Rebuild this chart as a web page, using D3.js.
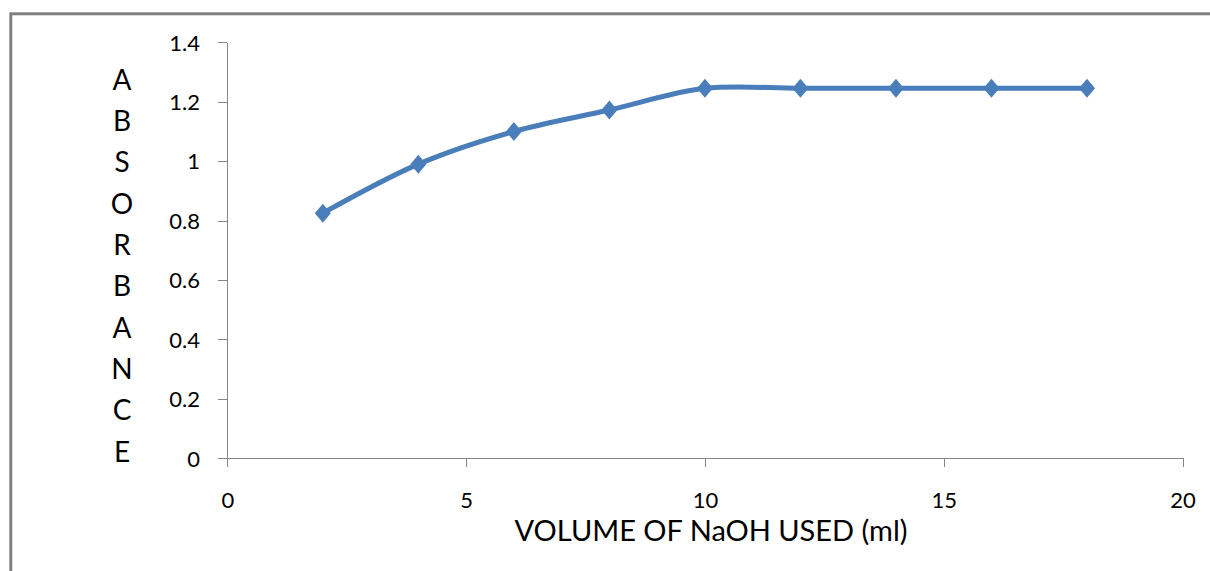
<!DOCTYPE html>
<html>
<head>
<meta charset="utf-8">
<script src="https://cdn.jsdelivr.net/npm/d3@7"></script>
<style>
  html, body { margin: 0; padding: 0; background: #fff; }
  svg { display: block; }
  text { font-family: Lato, "Open Sans", sans-serif; fill: #000; }
</style>
</head>
<body>
<svg id="chart" width="1210" height="571"></svg>
<script>
// Absorbance readings against volume of NaOH added
const volume = [2, 4, 6, 8, 10, 12, 14, 16, 18];
const absorbance = [0.825, 0.99, 1.1, 1.172, 1.245, 1.245, 1.245, 1.245, 1.245];

const xTicks = [0, 5, 10, 15, 20];
const yTicks = [0, 0.2, 0.4, 0.6, 0.8, 1, 1.2, 1.4];
const yTickLabels = ["0", "0.2", "0.4", "0.6", "0.8", "1", "1.2", "1.4"];

const xTitle = "VOLUME OF NaOH USED (ml)";
const yTitle = "ABSORBANCE";

const svg = d3.select("#chart");

// outer frame (runs off the right and bottom edges)
svg.append("rect")
  .attr("x", 10.8).attr("y", 13.8)
  .attr("width", 1300).attr("height", 700)
  .attr("fill", "none")
  .attr("stroke", "#808080")
  .attr("stroke-width", 3);

const x = d3.scaleLinear().domain([0, 20]).range([227.3, 1182.5]);
const y = d3.scaleLinear().domain([0, 1.4]).range([458.3, 42.3]);

const axisColor = "#868686";

// x axis
const gx = svg.append("g")
  .attr("transform", `translate(0,${y(0)})`)
  .call(d3.axisBottom(x).tickValues(xTicks).tickSize(9).tickSizeOuter(9).tickFormat(d3.format("d")));
gx.selectAll("text")
  .attr("y", 41.7).attr("dy", "0.35em")
  .style("font-size", "22px");

// y axis
const gy = svg.append("g")
  .attr("transform", `translate(${x(0)},0)`)
  .call(d3.axisLeft(y).tickValues(yTicks).tickSize(9).tickSizeOuter(0)
    .tickFormat((d, i) => yTickLabels[i]));
gy.selectAll("text")
  .attr("x", -27.3).attr("dy", "0.35em")
  .style("font-size", "22px");

[gx, gy].forEach(g => {
  g.selectAll("path, line").attr("stroke", axisColor).attr("stroke-width", 1);
  g.select(".domain").attr("shape-rendering", "crispEdges");
  g.selectAll("line").attr("shape-rendering", "crispEdges");
  g.attr("font-family", null).attr("font-size", null);
});

// axis titles
svg.append("text")
  .attr("x", 711).attr("y", 531)
  .attr("dy", "0.35em")
  .attr("text-anchor", "middle")
  .style("font-size", "29px")
  .text(xTitle);

svg.append("g")
  .selectAll("text")
  .data(yTitle.split(""))
  .join("text")
  .attr("x", 122)
  .attr("y", (d, i) => 80 + i * 41.3)
  .attr("dy", "0.35em")
  .attr("text-anchor", "middle")
  .style("font-size", "28px")
  .text(d => d);

// smoothed series line
const pts = volume.map((v, i) => [v, absorbance[i]]);
const line = d3.line()
  .x(d => x(d[0]))
  .y(d => y(d[1]))
  .curve(d3.curveCardinal.tension(0));

const blue = "#4A7EBB";

svg.append("path")
  .datum(pts)
  .attr("d", line)
  .attr("fill", "none")
  .attr("stroke", blue)
  .attr("stroke-width", 5)
  .attr("stroke-linejoin", "round");

// diamond markers
const hw = 8, hh = 9.5;
svg.append("g")
  .selectAll("path")
  .data(pts)
  .join("path")
  .attr("transform", d => `translate(${x(d[0])},${y(d[1])})`)
  .attr("d", `M0,${-hh}L${hw},0L0,${hh}L${-hw},0Z`)
  .attr("fill", blue);
</script>
</body>
</html>
